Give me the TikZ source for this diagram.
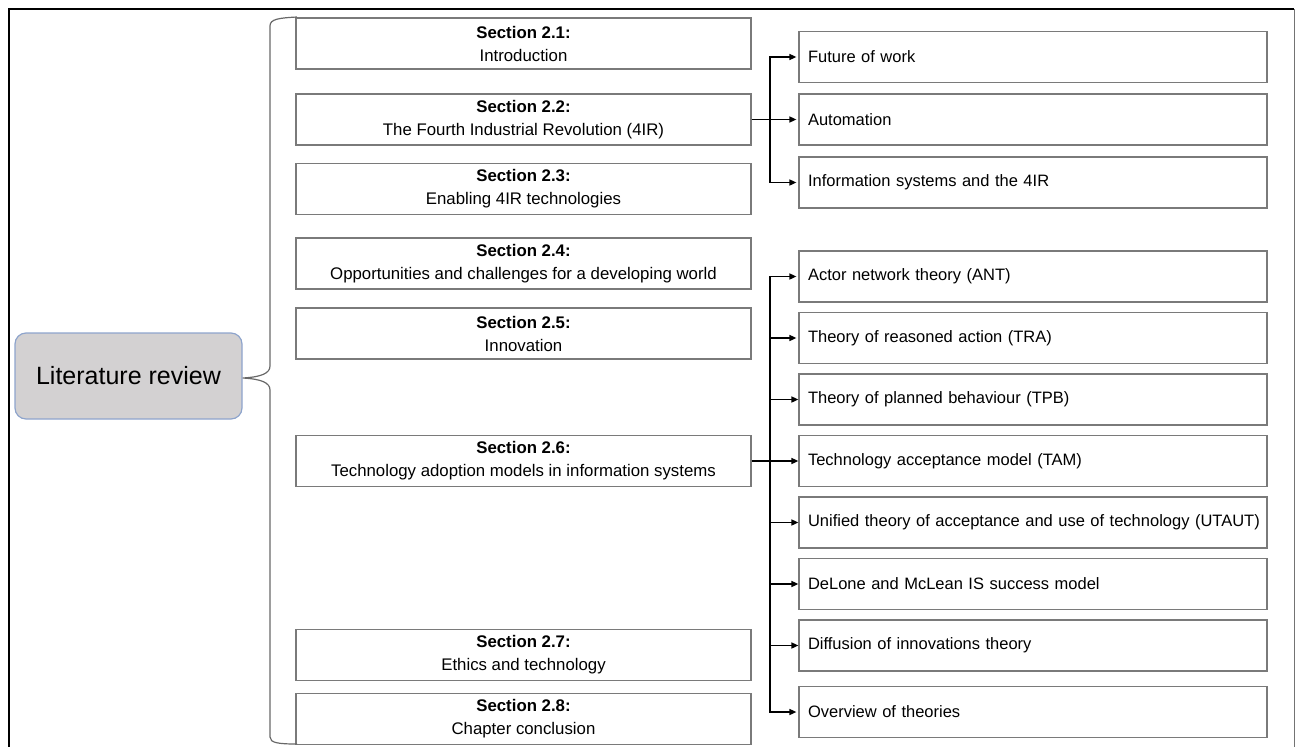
\documentclass[tikz,border=0pt]{standalone}
\usepackage{fontspec}
\setmainfont{Liberation Sans}
\usetikzlibrary{arrows.meta}
\definecolor{boxline}{HTML}{7A7A7A}
\definecolor{rootfill}{HTML}{D3D1D2}
\definecolor{rootline}{HTML}{8EA4CC}
\begin{document}
\begin{tikzpicture}[x=1pt,y=-1pt,
  secbox/.style={draw=boxline,line width=1.2pt,rectangle,minimum width=455pt,minimum height=51pt,
    inner sep=0pt,align=center,font=\fontsize{16.8}{23}\selectfont},
  topicbox/.style={draw=boxline,line width=1.2pt,rectangle,minimum height=51pt,
    text width=450pt,inner xsep=9pt,inner ysep=0pt,align=left,font=\fontsize{16.5}{21}\selectfont},
  conn/.style={line width=1.5pt,black},
  arr/.style={conn,-{Triangle[length=7pt,width=6pt]}},
  gap/.style={shorten >=2pt}]
\useasboundingbox (0,0) rectangle (1296,747);

% frame
\draw[line width=2.2pt,black] (9,747) -- (9,9) -- (1294,9);
\draw[line width=1pt,black!55] (1294,9) -- (1294,747);

% root node
\node[draw=rootline,fill=rootfill,line width=1.2pt,rounded corners=11pt,
  minimum width=227pt,minimum height=86pt,inner sep=0pt,
  font=\fontsize{25}{30}\selectfont] (root) at (128.5,376) {Literature review};

% section column
\node[secbox] (s21) at (523.5,43.5)  {\textbf{Section 2.1:}\\Introduction};
\node[secbox] (s22) at (523.5,119.5) {\textbf{Section 2.2:}\\The Fourth Industrial Revolution (4IR)};
\node[secbox] (s23) at (523.5,189)   {\textbf{Section 2.3:}\\Enabling 4IR technologies};
\node[secbox] (s24) at (523.5,263.5) {\textbf{Section 2.4:}\\Opportunities and challenges for a developing world};
\node[secbox] (s25) at (523.5,333.5) {\textbf{Section 2.5:}\\Innovation};
\node[secbox] (s26) at (523.5,461)   {\textbf{Section 2.6:}\\Technology adoption models in information systems};
\node[secbox] (s27) at (523.5,655)   {\textbf{Section 2.7:}\\Ethics and technology};
\node[secbox] (s28) at (523.5,719)   {\textbf{Section 2.8:}\\Chapter conclusion};

% brace joining the root to the sections
\draw[boxline!85!black,line width=1.2pt]
  (297,17) .. controls (279,18) and (270,19) .. (270,26) -- (270,366)
  .. controls (270,373) and (262,377) .. (root.east |- 0,378)
  .. controls (262,379) and (270,383) .. (270,390) -- (270,737)
  .. controls (270,743) and (279,744) .. (297,744);

% topic column
\node[topicbox] (fut)  at (1033,57)    {Future of work};
\node[topicbox] (auto) at (1033,119.5) {Automation};
\node[topicbox] (info) at (1033,182.5) {Information systems and the 4IR};
\node[topicbox] (ant)  at (1033,276.5) {Actor network theory (ANT)};
\node[topicbox] (tra)  at (1033,338)   {Theory of reasoned action (TRA)};
\node[topicbox] (tpb)  at (1033,399.5) {Theory of planned behaviour (TPB)};
\node[topicbox] (tam)  at (1033,461)   {Technology acceptance model (TAM)};
\node[topicbox] (uta)  at (1033,522.5) {\mbox{Unified theory of acceptance and use of technology (UTAUT)}};
\node[topicbox] (dm)   at (1033,584)   {DeLone and McLean IS success model};
\node[topicbox] (doi)  at (1033,645.5) {Diffusion of innovations theory};
\node[topicbox] (ovr)  at (1033,712)   {Overview of theories};

% connectors, 4IR group
\coordinate (j1) at (770,119.5);
\draw[arr,gap] (s22.east) -- (auto.west);
\draw[arr,gap] (j1) |- (fut.west);
\draw[arr,gap] (j1) |- (info.west);

% connectors, adoption-model group
\coordinate (j2) at (770,461);
\draw[arr] (s26.east) -- (tam.west);
\draw[arr,gap] (j2) |- (ant.west);
\draw[arr,gap] (j2) |- (ovr.west);
\draw[arr,gap] (j2 |- tra.west) -- (tra.west);
\draw[arr] (j2 |- tpb.west) -- (tpb.west);
\draw[arr] (j2 |- uta.west) -- (uta.west);
\draw[arr] (j2 |- dm.west) -- (dm.west);
\draw[arr] (j2 |- doi.west) -- (doi.west);
\end{tikzpicture}
\end{document}
